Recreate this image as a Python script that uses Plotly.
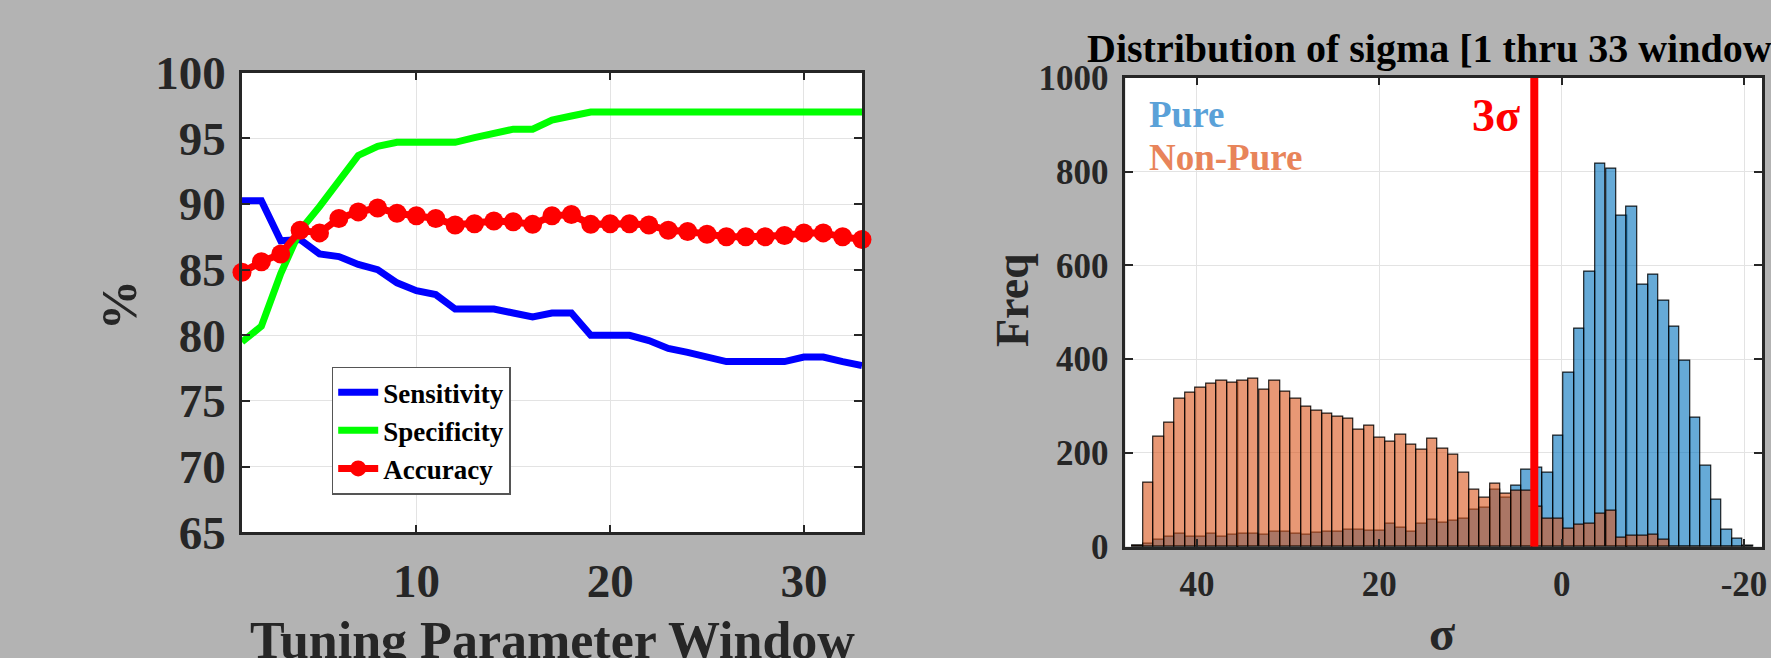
import plotly.graph_objects as go

# ---------------- data: left panel ----------------
window = list(range(1, 34))
sensitivity = [90.25, 90.25, 87.2, 87.3, 86.2, 86.0, 85.4, 85.0, 84.0, 83.4, 83.1,
               82.0, 82.0, 82.0, 81.7, 81.4, 81.7, 81.7, 80.0, 80.0, 80.0, 79.6,
               79.0, 78.7, 78.4, 78.0, 78.0, 78.0, 78.0, 78.35, 78.35, 78.0, 77.7]
specificity = [79.5, 80.7, 84.7, 88.0, 89.8, 91.8, 93.7, 94.4, 94.7, 94.7, 94.7,
               94.7, 95.05, 95.35, 95.7, 95.7, 96.4, 96.7, 97.0, 97.0, 97.0, 97.0,
               97.0, 97.0, 97.0, 97.0, 97.0, 97.0, 97.0, 97.0, 97.0, 97.0, 97.0]
accuracy = [84.8, 85.6, 86.2, 88.0, 87.8, 88.9, 89.4, 89.7, 89.3, 89.1, 88.9,
            88.4, 88.5, 88.7, 88.65, 88.45, 89.1, 89.2, 88.45, 88.5, 88.5, 88.4,
            88.0, 87.9, 87.7, 87.5, 87.5, 87.5, 87.6, 87.8, 87.8, 87.5, 87.3]
left_xticks = [10, 20, 30]
left_yticks = [65, 70, 75, 80, 85, 90, 95, 100]

# ---------------- data: right panel ----------------
sigma_bins = [46.47, 45.32, 44.17, 43.01, 41.86, 40.71, 39.55, 38.40, 37.25, 36.09,
              34.94, 33.79, 32.63, 31.48, 30.33, 29.17, 28.02, 26.87, 25.72, 24.56,
              23.41, 22.26, 21.10, 19.95, 18.80, 17.64, 16.49, 15.34, 14.18, 13.03,
              11.88, 10.73, 9.57, 8.42, 7.27, 6.11, 4.96, 3.81, 2.65, 1.50,
              0.35, -0.81, -1.96, -3.11, -4.26, -5.42, -6.57, -7.72, -8.88, -10.03,
              -11.18, -12.34, -13.49, -14.64, -15.80, -16.95, -18.10, -19.25, -20.41]
pure_counts = [2, 6, 16, 22, 27, 22, 21, 28, 21, 26,
               27, 27, 25, 31, 32, 27, 25, 29, 31, 32,
               37, 36, 34, 34, 49, 41, 33, 50, 58, 51,
               55, 59, 78, 83, 122, 105, 131, 165, 169, 158,
               237, 370, 464, 587, 816, 806, 705, 725, 558, 579,
               524, 469, 396, 274, 172, 100, 37, 18, 2]
nonpure_counts = [3, 137, 234, 265, 316, 328, 340, 348, 355, 350,
                  353, 358, 335, 353, 331, 316, 299, 291, 283, 278,
                  272, 249, 259, 233, 224, 238, 217, 207, 231, 208,
                  196, 157, 121, 105, 135, 113, 120, 119, 85, 59,
                  60, 38, 46, 50, 71, 76, 19, 23, 23, 25,
                  16, 0, 0, 0, 0, 0, 0, 0, 0]
threshold_sigma = 3
right_xticks = [40, 20, 0, -20]
right_xticktext = ["40", "20", "0", "-20"]
right_yticks = [0, 200, 400, 600, 800, 1000]

W, H = 1771, 658
FONT = "Liberation Serif"
INK = "#262626"
GRID = "#e3e3e3"

fig = go.Figure()

fig.add_trace(go.Scatter(x=window, y=sensitivity, mode="lines", name="Sensitivity",
                         line=dict(color="#0000ff", width=7), xaxis="x", yaxis="y"))
fig.add_trace(go.Scatter(x=window, y=specificity, mode="lines", name="Specificity",
                         line=dict(color="#00ff00", width=7), xaxis="x", yaxis="y"))
fig.add_trace(go.Scatter(x=window, y=accuracy, mode="lines+markers", name="Accuracy",
                         line=dict(color="#ff0000", width=7),
                         marker=dict(color="#ff0000", size=19, line=dict(width=0)),
                         xaxis="x", yaxis="y", cliponaxis=False))

fig.add_trace(go.Bar(x=sigma_bins, y=pure_counts, width=1.153, name="Pure",
                     marker=dict(color="rgba(0,114,189,0.6)",
                                 line=dict(color="rgba(0,0,0,0.85)", width=1.2)),
                     xaxis="x2", yaxis="y2", showlegend=False))
fig.add_trace(go.Bar(x=sigma_bins, y=nonpure_counts, width=1.153, name="Non-Pure",
                     marker=dict(color="rgba(217,83,25,0.6)",
                                 line=dict(color="rgba(0,0,0,0.85)", width=1.2)),
                     xaxis="x2", yaxis="y2", showlegend=False))
fig.add_trace(go.Scatter(x=[threshold_sigma, threshold_sigma], y=[0, 1000], mode="lines",
                         line=dict(color="#ff0000", width=8), xaxis="x2", yaxis="y2",
                         showlegend=False, hoverinfo="skip"))

axis_common = dict(showline=True, linecolor=INK, linewidth=2.5, mirror="allticks",
                   ticks="inside", ticklen=8, tickwidth=2, tickcolor=INK,
                   showgrid=True, gridcolor=GRID, gridwidth=1, zeroline=False,
                   automargin=False, ticklabeloverflow="allow")

fig.update_layout(
    width=W, height=H,
    margin=dict(l=0, r=0, t=0, b=0, autoexpand=False),
    paper_bgcolor="#b3b3b3", plot_bgcolor="#ffffff",
    barmode="overlay", bargap=0,
    font=dict(family=FONT, color=INK, weight="bold"),
    xaxis=dict(domain=[242 / W, 862 / W], range=[1, 33], tickvals=left_xticks,
               tickfont=dict(family=FONT, size=47, color=INK, weight="bold"),
               ticklabelstandoff=6, anchor="y", **axis_common),
    yaxis=dict(domain=[1 - 532.3 / H, 1 - 72.7 / H], range=[65, 100], tickvals=left_yticks,
               tickfont=dict(family=FONT, size=47, color=INK, weight="bold"),
               ticklabelstandoff=4, anchor="x", **axis_common),
    xaxis2=dict(domain=[1125.3 / W, 1762 / W], range=[47.85, -21.97], tickvals=right_xticks,
                ticktext=right_xticktext,
                tickfont=dict(family=FONT, size=35, color=INK, weight="bold"),
                ticklabelstandoff=5, anchor="y2", **axis_common),
    yaxis2=dict(domain=[1 - 546.7 / H, 1 - 77.7 / H], range=[0, 1000], tickvals=right_yticks,
                tickfont=dict(family=FONT, size=35, color=INK, weight="bold"),
                ticklabelstandoff=7, anchor="x2", **axis_common),
    legend=dict(x=331.7 / W, y=1 - 366.7 / H, xanchor="left", yanchor="top",
                bgcolor="#ffffff", bordercolor="#555555", borderwidth=1.5,
                font=dict(family=FONT, size=27, color="#000000", weight="bold"),
                tracegroupgap=0, itemwidth=40),
    showlegend=True,
)

def px_x(x):
    return x / W

def px_y(y):
    return 1 - y / H

annotations = [
    dict(text="Tuning Parameter Window", x=px_x(552), y=px_y(640), xref="paper", yref="paper",
         xanchor="center", yanchor="middle", showarrow=False,
         font=dict(family=FONT, size=52, color=INK, weight="bold")),
    dict(text="%", x=px_x(119), y=px_y(305), xref="paper", yref="paper", textangle=-90,
         xanchor="center", yanchor="middle", showarrow=False,
         font=dict(family=FONT, size=50, color=INK, weight="bold")),
    dict(text="Distribution of sigma [1 thru 33 windows]", x=px_x(1443), y=px_y(48),
         xref="paper", yref="paper", xanchor="center", yanchor="middle", showarrow=False,
         font=dict(family=FONT, size=40, color="#000000", weight="bold")),
    dict(text="Freq", x=px_x(1012), y=px_y(300), xref="paper", yref="paper", textangle=-90,
         xanchor="center", yanchor="middle", showarrow=False,
         font=dict(family=FONT, size=46, color=INK, weight="bold")),
    dict(text="σ", x=px_x(1442), y=px_y(633), xref="paper", yref="paper",
         xanchor="center", yanchor="middle", showarrow=False,
         font=dict(family=FONT, size=48, color=INK, weight="bold")),
    dict(text="3σ", x=threshold_sigma, y=920, xref="x2", yref="y2", xshift=-12,
         xanchor="right", yanchor="middle", showarrow=False,
         font=dict(family=FONT, size=46, color="#ff0000", weight="bold")),
    dict(text="Pure", x=px_x(1147), y=px_y(114), xref="paper", yref="paper",
         xanchor="left", yanchor="middle", showarrow=False,
         font=dict(family=FONT, size=37, color="#5AA1D8", weight="bold")),
    dict(text="Non-Pure", x=px_x(1147), y=px_y(158), xref="paper", yref="paper",
         xanchor="left", yanchor="middle", showarrow=False,
         font=dict(family=FONT, size=37, color="#E8845A", weight="bold")),
]
fig.update_layout(annotations=annotations)

fig.write_html("out.html")
